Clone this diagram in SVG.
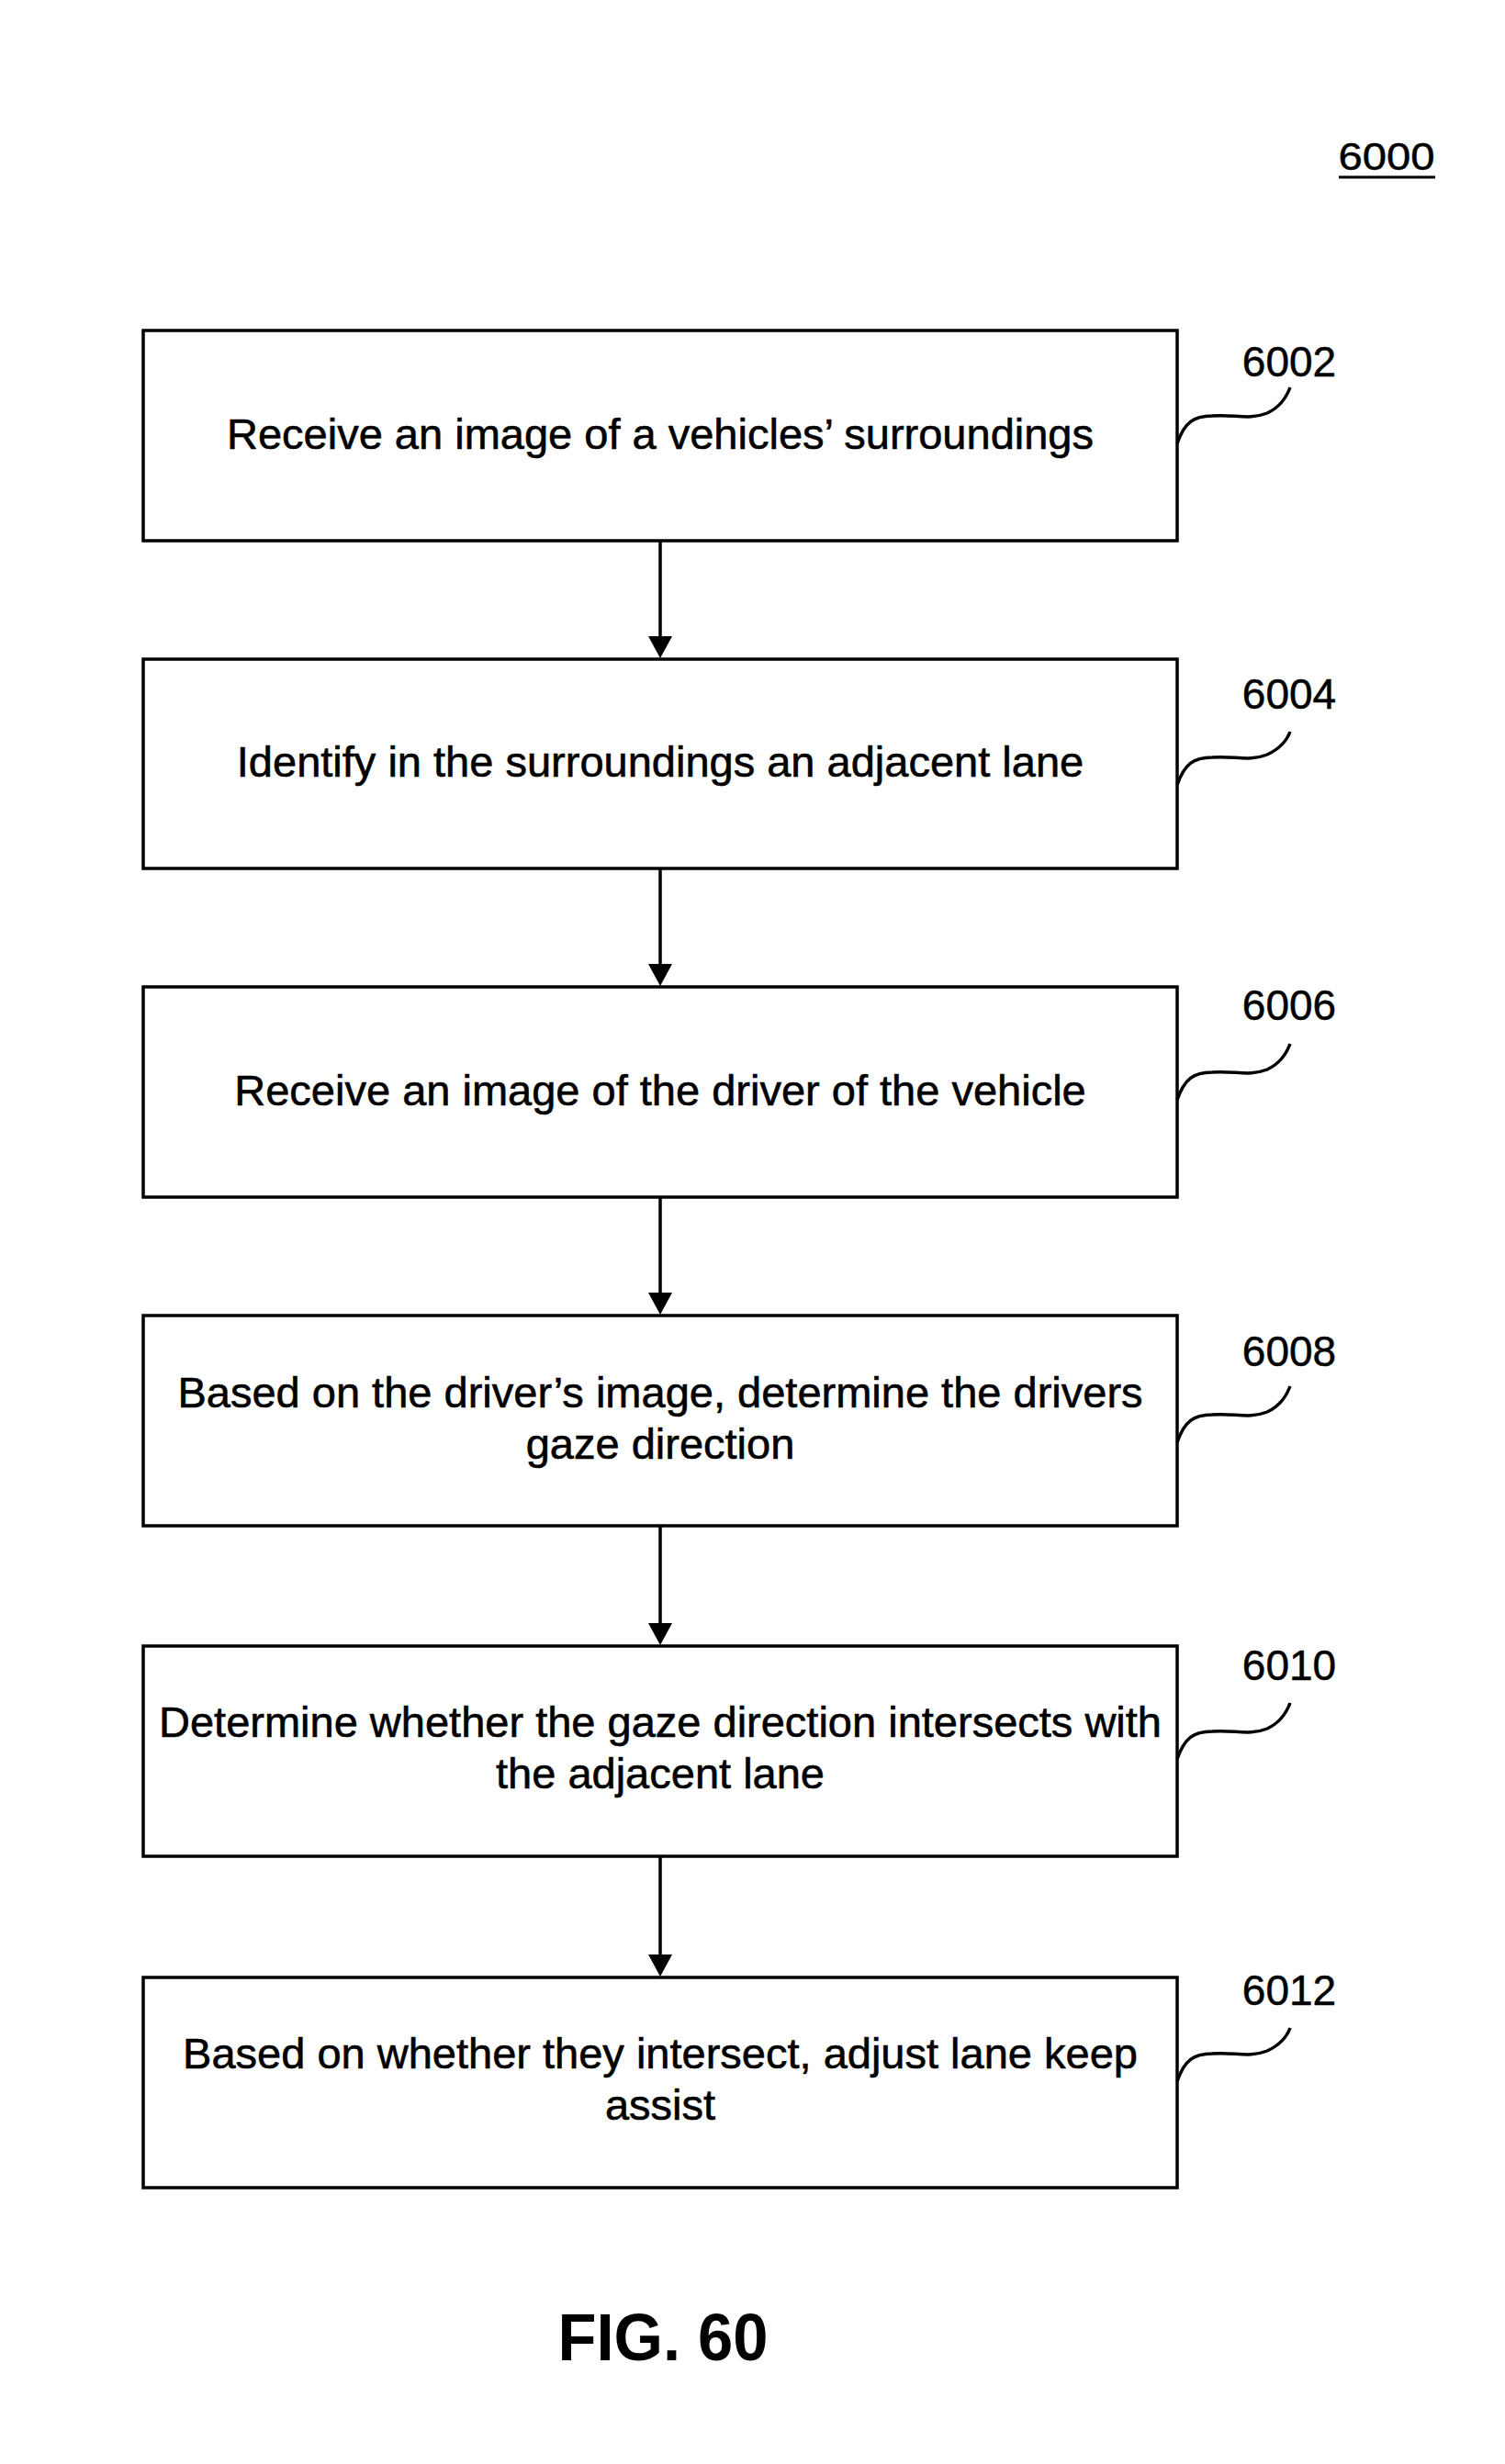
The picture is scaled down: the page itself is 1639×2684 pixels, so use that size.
<svg xmlns="http://www.w3.org/2000/svg" width="1639" height="2684" viewBox="0 0 1639 2684">
<style>
.box{fill:#fff;stroke:#000;stroke-width:3.5}
.t{font-family:"Liberation Sans",Arial,sans-serif;font-size:47px;fill:#000;stroke:#000;stroke-width:0.6;text-anchor:middle}
.ref{font-family:"Liberation Sans",Arial,sans-serif;font-size:46px;fill:#000;stroke:#000;stroke-width:0.5;text-anchor:middle}
.lead{fill:none;stroke:#000;stroke-width:3.5}
.conn{stroke:#000;stroke-width:3.5;fill:none}
</style>
<rect width="1639" height="2684" fill="#fff"/>
<g id="title">
<text x="1510" y="185" font-family="'Liberation Sans',Arial,sans-serif" font-size="42" text-anchor="middle" stroke="#000" stroke-width="0.5" textLength="105" lengthAdjust="spacingAndGlyphs">6000</text>
<line x1="1458" y1="193" x2="1563" y2="193" stroke="#000" stroke-width="3"/>
</g>
<g id="connectors">
<line class="conn" x1="719" y1="590" x2="719" y2="694"/>
<path d="M706,693 L732,693 L719,717 Z"/>
<line class="conn" x1="719" y1="947" x2="719" y2="1051"/>
<path d="M706,1050 L732,1050 L719,1074 Z"/>
<line class="conn" x1="719" y1="1305" x2="719" y2="1409"/>
<path d="M706,1408 L732,1408 L719,1432 Z"/>
<line class="conn" x1="719" y1="1663" x2="719" y2="1769"/>
<path d="M706,1768 L732,1768 L719,1792 Z"/>
<line class="conn" x1="719" y1="2023" x2="719" y2="2130"/>
<path d="M706,2129 L732,2129 L719,2153 Z"/>
</g>
<g id="n6002">
<rect class="box" x="156" y="360" width="1126" height="229"/>
<text class="t" x="719" y="489">Receive an image of a vehicles’ surroundings</text>
<text class="ref" x="1404" y="410">6002</text>
<path class="lead" d="M1282,483 C1290,460 1300,453 1320,453 C1345,451 1360,458 1380,450 C1395,443 1402,430 1405,422"/>
</g>
<g id="n6004">
<rect class="box" x="156" y="718" width="1126" height="228"/>
<text class="t" x="719" y="846">Identify in the surroundings an adjacent lane</text>
<text class="ref" x="1404" y="772">6004</text>
<path class="lead" d="M1282,855 C1290,832 1300,825 1320,825 C1345,823 1360,830 1380,822 C1395,815 1402,805 1405,797"/>
</g>
<g id="n6006">
<rect class="box" x="156" y="1075" width="1126" height="229"/>
<text class="t" x="719" y="1204">Receive an image of the driver of the vehicle</text>
<text class="ref" x="1404" y="1111">6006</text>
<path class="lead" d="M1282,1198 C1290,1175 1300,1168 1320,1168 C1345,1166 1360,1173 1380,1165 C1395,1158 1402,1145 1405,1137"/>
</g>
<g id="n6008">
<rect class="box" x="156" y="1433" width="1126" height="229"/>
<text class="t" x="719" y="1533">Based on the driver’s image, determine the drivers</text>
<text class="t" x="719" y="1589">gaze direction</text>
<text class="ref" x="1404" y="1488">6008</text>
<path class="lead" d="M1282,1571 C1290,1548 1300,1541 1320,1541 C1345,1539 1360,1546 1380,1538 C1395,1531 1402,1518 1405,1510"/>
</g>
<g id="n6010">
<rect class="box" x="156" y="1793" width="1126" height="229"/>
<text class="t" x="719" y="1892">Determine whether the gaze direction intersects with</text>
<text class="t" x="719" y="1948">the adjacent lane</text>
<text class="ref" x="1404" y="1830">6010</text>
<path class="lead" d="M1282,1916 C1290,1893 1300,1886 1320,1886 C1345,1884 1360,1891 1380,1883 C1395,1876 1402,1863 1405,1855"/>
</g>
<g id="n6012">
<rect class="box" x="156" y="2154" width="1126" height="229"/>
<text class="t" x="719" y="2253">Based on whether they intersect, adjust lane keep</text>
<text class="t" x="719" y="2309">assist</text>
<text class="ref" x="1404" y="2184">6012</text>
<path class="lead" d="M1282,2267 C1290,2244 1300,2237 1320,2237 C1345,2235 1360,2242 1380,2234 C1395,2227 1402,2217 1405,2209"/>
</g>
<g id="caption">
<text x="722" y="2571" font-family="'Liberation Sans',Arial,sans-serif" font-size="72" font-weight="bold" text-anchor="middle" textLength="229" lengthAdjust="spacingAndGlyphs">FIG. 60</text>
</g>
</svg>
